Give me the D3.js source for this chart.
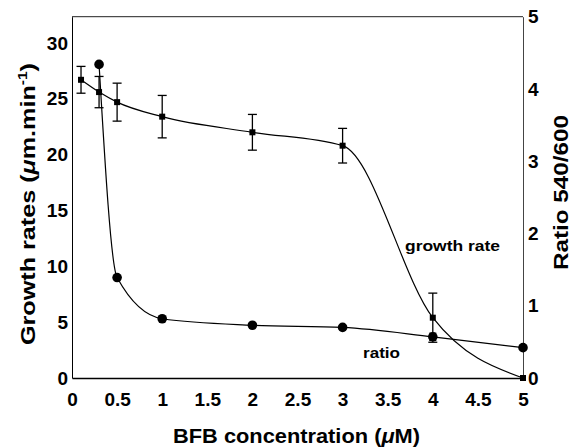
<!DOCTYPE html>
<html>
<head>
<meta charset="utf-8">
<script src="https://cdn.jsdelivr.net/npm/d3@7"></script>
<style>
  body { margin: 0; background: #fff; }
  svg text { font-family: "Liberation Sans", Arial, sans-serif; font-weight: bold; fill: #000; }
</style>
</head>
<body>
<div id="chart"></div>
<script>
// BFB concentration (uM)
var growthX = [0.1, 0.3, 0.5, 1, 2, 3, 4, 5];
var growthRate = [26.7, 25.6, 24.7, 23.4, 22.0, 20.8, 5.4, 0];
var growthErr = [1.2, 1.4, 1.7, 1.9, 1.6, 1.55, 2.2, 0];

var ratioX = [0.3, 0.5, 1, 2, 3, 4, 5];
var ratioVal = [4.34, 1.39, 0.82, 0.73, 0.70, 0.57, 0.42];
var ratioErr = [0, 0, 0, 0, 0, 0.05, 0];

var xTicks = [0, 0.5, 1, 1.5, 2, 2.5, 3, 3.5, 4, 4.5, 5];
var leftTicks = [0, 5, 10, 15, 20, 25, 30];
var rightTicks = [0, 1, 2, 3, 4, 5];

var width = 572, height = 447;
var plotL = 72, plotR = 523, plotT = 16.7, plotB = 378;

var svg = d3.select('#chart').append('svg')
  .attr('width', width)
  .attr('height', height);

var x = d3.scaleLinear().domain([0, 5]).range([plotL, plotR]);
var yL = d3.scaleLinear().domain([0, 32.35]).range([plotB, plotT]);
var yR = d3.scaleLinear().domain([0, 5]).range([plotB, plotT]);

function translate(a, b) {
  return 'translate(' + a + ',' + b + ')';
}

// top border
svg.append('line')
  .attr('x1', plotL).attr('x2', plotR).attr('y1', plotT).attr('y2', plotT)
  .attr('stroke', '#222').attr('stroke-width', 1);

var fmt = function(d) { return String(d); };

var xAxis = svg.append('g')
  .attr('transform', translate(0, plotB))
  .call(d3.axisBottom(x).tickValues(xTicks).tickFormat(fmt).tickSize(0).tickPadding(15));
xAxis.select('.domain').attr('stroke-width', 1.5);
xAxis.selectAll('text').style('font-size', '19px');

var lAxis = svg.append('g')
  .attr('transform', translate(plotL, 0))
  .call(d3.axisLeft(yL).tickValues(leftTicks).tickFormat(fmt).tickSize(0).tickPadding(4));
lAxis.select('.domain').attr('stroke-width', 1);
lAxis.selectAll('text').style('font-size', '19px');

var rAxis = svg.append('g')
  .attr('transform', translate(plotR, 0))
  .call(d3.axisRight(yR).tickValues(rightTicks).tickFormat(fmt).tickSize(0).tickPadding(5));
rAxis.select('.domain').attr('stroke', '#444').attr('stroke-width', 1);
rAxis.selectAll('text').style('font-size', '19px');

var growthData = growthX.map(function(d, i) { return {x: d, y: growthRate[i], e: growthErr[i]}; });
var ratioData = ratioX.map(function(d, i) { return {x: d, y: ratioVal[i], e: ratioErr[i]}; });

// curves
svg.append('path')
  .datum(growthData)
  .attr('fill', 'none')
  .attr('stroke', '#000')
  .attr('stroke-width', 1.2)
  .attr('d', d3.line().curve(d3.curveMonotoneX)
    .x(function(d) { return x(d.x); })
    .y(function(d) { return yL(d.y); }));

svg.append('path')
  .datum(ratioData)
  .attr('fill', 'none')
  .attr('stroke', '#000')
  .attr('stroke-width', 1.2)
  .attr('d', d3.line().curve(d3.curveMonotoneX)
    .x(function(d) { return x(d.x); })
    .y(function(d) { return yR(d.y); }));

// error bars
function errorBars(data, y, cap) {
  var g = svg.append('g').attr('stroke', '#000').attr('stroke-width', 1.3);
  data.filter(function(d) { return d.e > 0; }).forEach(function(d) {
    var cx = x(d.x), y0 = y(d.y - d.e), y1 = y(d.y + d.e);
    g.append('line').attr('x1', cx).attr('x2', cx).attr('y1', y0).attr('y2', y1);
    g.append('line').attr('x1', cx - cap).attr('x2', cx + cap).attr('y1', y0).attr('y2', y0);
    g.append('line').attr('x1', cx - cap).attr('x2', cx + cap).attr('y1', y1).attr('y2', y1);
  });
}
errorBars(growthData, yL, 4.5);
errorBars(ratioData, yR, 3.5);

// markers
svg.selectAll('.sq').data(growthData).enter().append('rect')
  .attr('class', 'sq')
  .attr('x', function(d) { return x(d.x) - 3; })
  .attr('y', function(d) { return yL(d.y) - 3; })
  .attr('width', 6).attr('height', 6)
  .attr('fill', '#000');

svg.selectAll('.dot').data(ratioData).enter().append('circle')
  .attr('class', 'dot')
  .attr('cx', function(d) { return x(d.x); })
  .attr('cy', function(d) { return yR(d.y); })
  .attr('r', 4.8)
  .attr('fill', '#000');

// labels in plot
svg.append('text')
  .attr('x', 405).attr('y', 251)
  .attr('textLength', 95).attr('lengthAdjust', 'spacingAndGlyphs')
  .style('font-size', '15px')
  .text('growth rate');

svg.append('text')
  .attr('x', 363).attr('y', 358)
  .attr('textLength', 37).attr('lengthAdjust', 'spacingAndGlyphs')
  .style('font-size', '15px')
  .text('ratio');

// axis titles
var xt = svg.append('text')
  .attr('x', 173).attr('y', 443)
  .attr('textLength', 247).attr('lengthAdjust', 'spacingAndGlyphs')
  .style('font-size', '21px');
xt.append('tspan').text('BFB concentration (');
xt.append('tspan').style('font-style', 'italic').text('\u03bc');
xt.append('tspan').text('M)');

var lt = svg.append('text')
  .attr('transform', translate(35, 345) + ' rotate(-90)')
  .attr('textLength', 282).attr('lengthAdjust', 'spacingAndGlyphs')
  .style('font-size', '21px');
lt.append('tspan').text('Growth rates (');
lt.append('tspan').style('font-style', 'italic').text('\u03bc');
lt.append('tspan').text('m.min');
lt.append('tspan').attr('dy', -8).style('font-size', '13px').text('-1');
lt.append('tspan').attr('dy', 8).text(')');

svg.append('text')
  .attr('transform', translate(568, 270) + ' rotate(-90)')
  .attr('textLength', 155).attr('lengthAdjust', 'spacingAndGlyphs')
  .style('font-size', '20px')
  .text('Ratio 540/600');
</script>
</body>
</html>
